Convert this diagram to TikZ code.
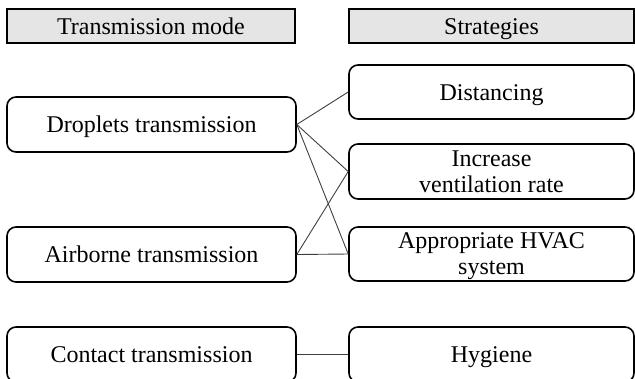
\documentclass[tikz,border=0pt]{standalone}
\usepackage{fontspec}
\setmainfont{Liberation Serif}
\usetikzlibrary{positioning}

\tikzset{
  headbox/.style={draw=black, line width=1.6pt, fill=gray!20, minimum height=34pt, inner sep=0pt, text height=16pt, text depth=0pt},
  modebox/.style={draw=black, line width=1.6pt, rounded corners=9pt, minimum height=55pt, inner sep=0pt, align=center},
  oneline/.style={text height=16pt, text depth=0pt},
  link/.style={draw=black!75, line width=0.9pt}
}

\begin{document}
\begin{tikzpicture}[x=1pt,y=-1pt,font=\fontsize{24}{26}\selectfont]
\useasboundingbox (0,0) rectangle (635,378);
\node[headbox, minimum width=288pt] (hmode) at (151,26) {Transmission mode};
\node[headbox, minimum width=285pt] (hstrat) at (491.5,26) {Strategies};

\node[modebox, oneline, minimum width=289pt] (drop) at (151.5,124.5) {Droplets transmission};
\node[modebox, oneline, minimum width=289pt] (air) at (151.5,254.5) {Airborne transmission};
\node[modebox, oneline, minimum width=289pt] (contact) at (151.5,354.5) {Contact transmission};

\node[modebox, oneline, minimum width=285pt, minimum height=54pt] (dist) at (491.5,92) {Distancing};
\node[modebox, minimum width=285pt] (vent) at (491.5,171.5) {Increase\\ventilation rate};
\node[modebox, minimum width=285pt, minimum height=54pt, text depth=0pt] (hvac) at (491.5,254) {Appropriate HVAC\\system};
\node[modebox, oneline, minimum width=285pt] (hyg) at (491.5,354.5) {Hygiene};

\path[link] (drop.east) -- (dist.west);
\path[link] (drop.east) -- (vent.west);
\path[link] (drop.east) -- (hvac.west);
\path[link] (air.east) -- (vent.west);
\path[link] (air.east) -- (hvac.west);
\path[link] (contact.east) -- (hyg.west);
\end{tikzpicture}
\end{document}
